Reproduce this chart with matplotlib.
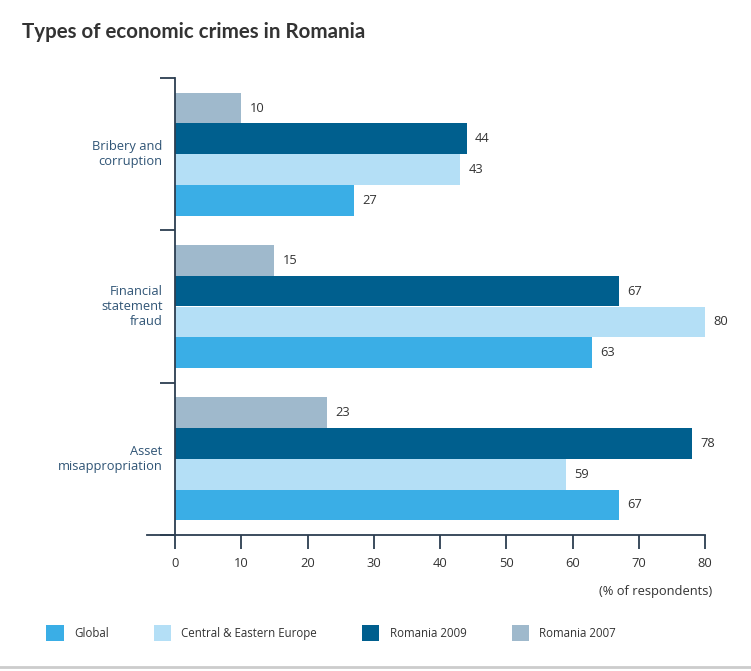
import matplotlib.pyplot as plt
import numpy as np
from matplotlib.lines import Line2D

# crime types, top to bottom
crimes = ['Bribery and\ncorruption', 'Financial\nstatement\nfraud', 'Asset\nmisappropriation']

# % of respondents for each series
romania_2007 = [10, 15, 23]
romania_2009 = [44, 67, 78]
cee = [43, 80, 59]
global_ = [27, 63, 67]

series_names = ['Romania 2007', 'Romania 2009', 'Central & Eastern Europe', 'Global']
series_vals = [romania_2007, romania_2009, cee, global_]
colours = ['#9fb9cc', '#005f8e', '#b4dff6', '#3aaee6']

x_ticks = [0, 10, 20, 30, 40, 50, 60, 70, 80]

plt.rcParams['font.family'] = ['Open Sans', 'DejaVu Sans']
axis_col = '#2c3e50'
text_col = '#333333'
fs = 9.3

fig = plt.figure(figsize=(7.51, 6.71), dpi=100)
ax = fig.add_axes([175/751, 1-535/671, 530/751, 457/671])

bar_h = 0.202
centres = np.arange(len(crimes)) + 0.5
bars = {}
for j, (name, vals, col) in enumerate(zip(series_names, series_vals, colours)):
    y = centres + (j - 1.5)*bar_h
    b = ax.barh(y, vals, height=bar_h, color=col, label=name)
    bars[name] = b
    for yy, v in zip(y, vals):
        ax.annotate(str(v), (v, yy), xytext=(6, 0), textcoords='offset points',
                    va='center', ha='left', fontsize=fs, color=text_col,
                    bbox=dict(boxstyle='square,pad=0.15', fc='white', ec='none'))

ax.set_xlim(0, 80)
ax.set_ylim(3, 0)
ax.set_xticks(x_ticks)
ax.set_xticklabels([str(t) for t in x_ticks], fontsize=fs, color=text_col)
ax.set_yticks([0, 1, 2, 3])
ax.set_yticklabels([])
ax.tick_params(axis='y', length=11, width=1.3, color=axis_col, direction='out')
ax.tick_params(axis='x', length=10, width=1.3, color=axis_col, direction='out', pad=6)

for s in ['top', 'right']:
    ax.spines[s].set_visible(False)
for s in ['left', 'bottom']:
    ax.spines[s].set_color(axis_col)
    ax.spines[s].set_linewidth(1.3)

# bottom axis line runs a bit past the left spine
ax.add_line(Line2D([-0.052, 0], [0, 0], transform=ax.transAxes, color=axis_col,
                   lw=1.3, clip_on=False))

# category labels beside each group
for c, label in zip(centres, crimes):
    ax.annotate(label, (0, c), xycoords=ax.get_yaxis_transform(),
                xytext=(-9, 0), textcoords='offset points',
                ha='right', va='center', fontsize=fs, color='#2f5475',
                linespacing=1.2, multialignment='right')

fig.text(712/751, 1-591/671, '(% of respondents)', ha='right', va='center',
         fontsize=fs, color=text_col)

fig.text(22/751, 1-32/671, 'Types of economic crimes in Romania', ha='left',
         va='center', fontsize=14.8, fontweight='bold', color='#333333',
         family=['Lato', 'DejaVu Sans'])

order = ['Global', 'Central & Eastern Europe', 'Romania 2009', 'Romania 2007']
handles = [bars[n] for n in order]
fig.legend(handles, order, loc='center left', bbox_to_anchor=(36/751, 1-633/671),
           ncol=4, frameon=False, fontsize=8.3, handlelength=1.5, handleheight=1.8,
           handletextpad=0.9, columnspacing=3.9, labelcolor=text_col)

fig.add_artist(Line2D([0, 1], [1-667/671, 1-667/671], transform=fig.transFigure,
                      color='#cccccc', lw=2))

fig.savefig('out.png', dpi=100)
